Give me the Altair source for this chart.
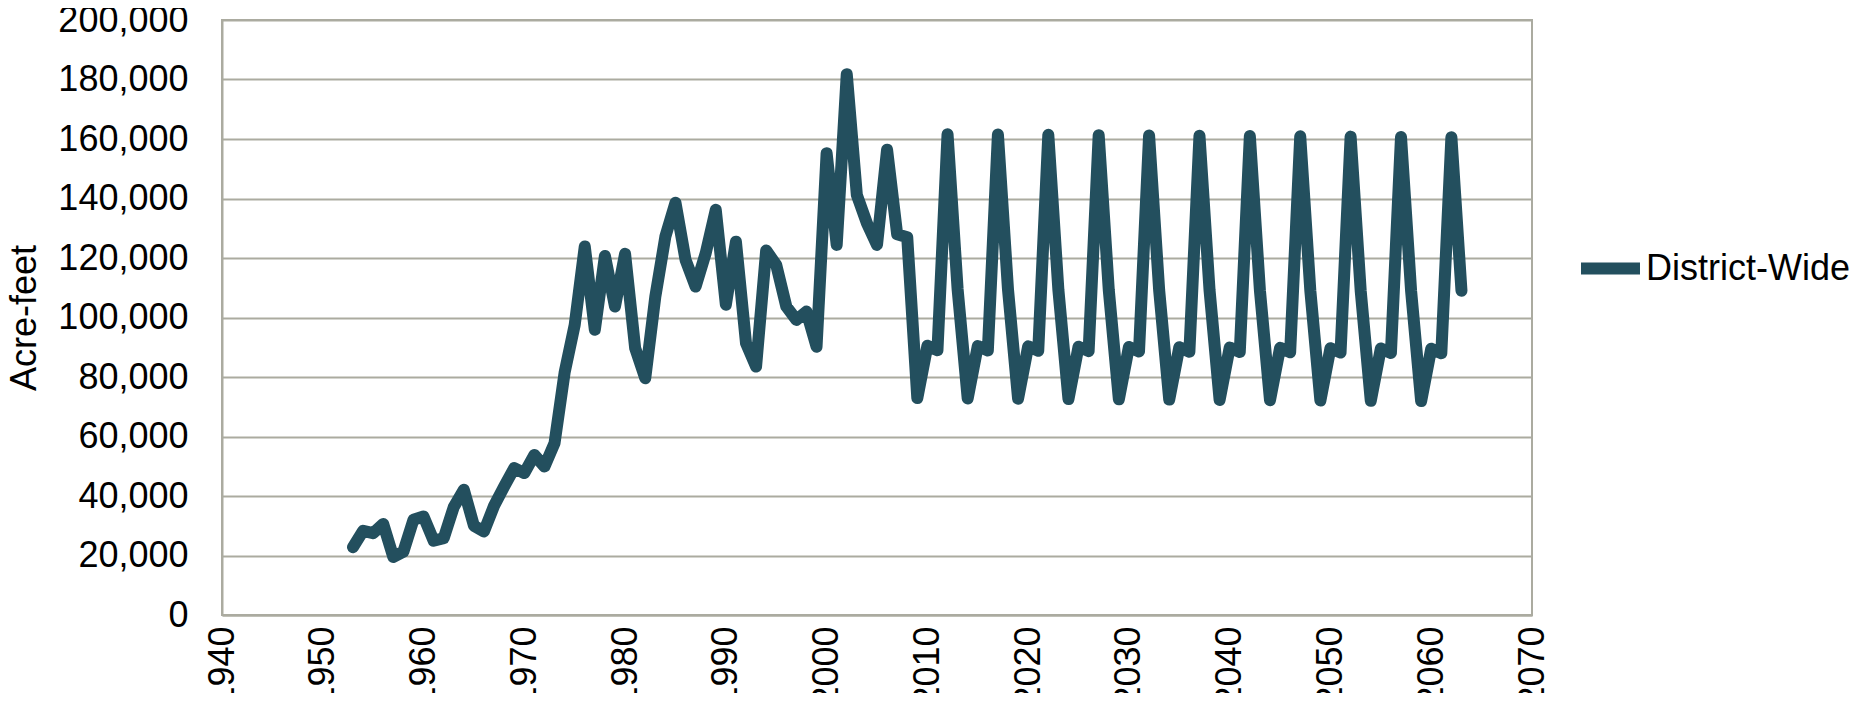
import altair as alt
import pandas as pd

series_name = "District-Wide"
start_year = 1953
values = [
    22800, 28300, 27500, 30600, 19500, 21300, 32000, 33100, 25000, 25800,   # 1953-1962
    36300, 42100, 30000, 28100, 36700, 43200, 49400, 47700, 53800, 49900,   # 1963-1972
    57800, 81500, 97500, 123900, 95900, 120700, 103700, 121400, 89700, 79600,  # 1973-1982
    107000, 127200, 138600, 119400, 110400, 121600, 136200, 104300, 125500, 91400,  # 1983-1992
    83500, 122500, 117700, 103700, 99200, 102000, 90200, 155200, 124400, 181800,  # 1993-2002
    141200, 131700, 124400, 156400, 128000, 127000,  # 2003-2008
    72900, 90500, 89000, 161600, 109500,
    72800, 90400, 88900, 161500, 109400,
    72700, 90300, 88800, 161400, 109300,
    72600, 90200, 88700, 161300, 109300,
    72500, 90100, 88600, 161200, 109200,
    72400, 90000, 88500, 161100, 109200,
    72300, 89900, 88400, 161000, 109100,
    72200, 89800, 88300, 160900, 109100,
    72100, 89700, 88200, 160800, 109000,
    72000, 89600, 88100, 160700, 109000,
    71900, 89500, 88000, 160600, 109000,
]
years = list(range(start_year, start_year + len(values)))
x_ticks = [1940, 1950, 1960, 1970, 1980, 1990, 2000, 2010, 2020, 2030, 2040, 2050, 2060, 2070]
y_ticks = [0, 20000, 40000, 60000, 80000, 100000, 120000, 140000, 160000, 180000, 200000]

df = pd.DataFrame({"Year": years, "Value": values, "Series": series_name})

LINE = "#234f5e"
GRID = "#ababa0"
FONT = "Liberation Sans"

chart = alt.Chart(df).mark_line(
    strokeWidth=12, strokeJoin="round", strokeCap="round"
).encode(
    x=alt.X("Year:Q",
            scale=alt.Scale(domain=[1940, 2070], nice=False, zero=False),
            axis=alt.Axis(values=x_ticks, format="d", labelAngle=-90, grid=False,
                          ticks=False, labelPadding=11, title=None,
                          domainColor=GRID, domainWidth=2, labelFlush=False,
                          labelOverlap=False)),
    y=alt.Y("Value:Q",
            scale=alt.Scale(domain=[0, 200000], nice=False),
            axis=alt.Axis(values=y_ticks, format=",d", title="Acre-feet",
                          grid=True, gridColor=GRID, gridWidth=2, ticks=False,
                          labelPadding=34, domainColor=GRID, domainWidth=2,
                          titlePadding=14, labelFlush=False, labelOverlap=False)),
    color=alt.Color("Series:N",
                    scale=alt.Scale(domain=[series_name], range=[LINE]),
                    legend=alt.Legend(title=None, orient="none", legendX=1353, legendY=213,
                                      symbolType="stroke", symbolStrokeWidth=12,
                                      symbolSize=3481, labelOffset=0, padding=0,
                                      labelLimit=400)),
).properties(
    width=1310, height=595,
    autosize=alt.AutoSizeParams(type="none"),
    padding={"left": 214, "top": 12, "right": 325, "bottom": 78},
).configure_view(
    stroke=GRID, strokeWidth=2
).configure_axis(
    labelFont=FONT, labelFontSize=36, labelColor="black",
    titleFont=FONT, titleFontSize=36, titleColor="black", titleFontWeight="normal",
).configure_legend(
    labelFont=FONT, labelFontSize=36, labelColor="black",
)

chart.save("out.html", embed_options={"renderer": "svg", "actions": False})
